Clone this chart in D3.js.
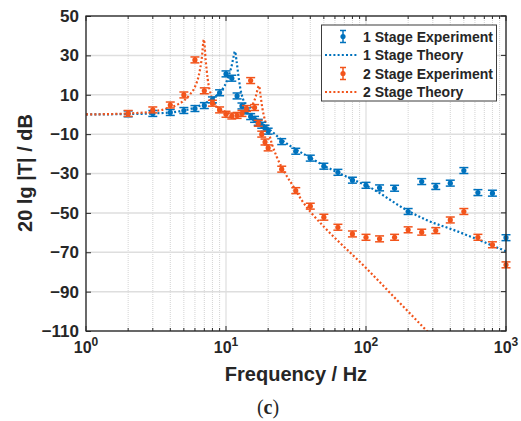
<!DOCTYPE html>
<html>
<head>
<meta charset="utf-8">
<script src="https://cdn.jsdelivr.net/npm/d3@7"></script>
<style>
  body { margin: 0; background: #fff; }
  svg { display: block; }
  text { font-family: "Liberation Sans", Arial, sans-serif; fill: #262626; }
</style>
</head>
<body>
<div id="chart"></div>
<script>
// measured frequencies (Hz)
const expFreq = [2, 3, 4, 5, 6, 7, 8, 9, 10, 11, 12, 13, 14, 15, 16, 17, 18, 19, 20,
  25, 31.5, 40, 50, 63, 80, 100, 125, 160, 200, 250, 315, 400, 500, 630, 800, 1000];

// 1 stage experiment (dB)
const stage1Exp = [0.3, 0.5, 1, 2, 3, 4.5, 7.4, 11, 20.6, 18.4, 9.4, 4.3, 1.8, -1.1, -2.5, -4, -5.5, -7, -8.5,
  -13.8, -18.7, -22.2, -26.3, -29.4, -33.4, -36, -37.3, -37.5, -49.3, -34.1, -36.6, -34.9, -28.5, -39.7, -40, -62.6];

// 2 stage experiment (dB)
const stage2Exp = [0.5, 2.3, 4.8, 9.9, 27.7, 12, 5.7, 2.3, 0.1, -0.8, -0.5, 0.5, 3, 17.2, 3.5, -4.5, -10, -14, -17,
  -27.8, -38.7, -46.6, -52.2, -57.3, -60.7, -62.4, -63.2, -62.4, -58.6, -59.8, -59, -53.6, -49.3, -62.4, -66.2, -76.4];

const expError = 1.5;

// theory curves
const stage1TheoryFreq = [1, 2, 3, 4, 5, 6, 7, 8, 9, 10, 10.5, 11, 11.3, 11.6, 11.9, 12.2, 12.6, 13.2, 14, 15,
  16.5, 18, 20, 25, 32, 40, 50, 63, 80, 100, 200, 270, 420, 1000];
const stage1TheoryDb = [0, 0.2, 0.5, 1, 2, 3.5, 5.5, 8, 11, 16, 20, 25, 29, 32, 27, 21, 14, 8, 4, 1,
  -2, -4.5, -7, -13, -18, -22, -26, -29.5, -33, -36, -49, -53.6, -58.6, -69.5];

const stage2TheoryFreq = [1, 2, 3, 4, 4.5, 5, 5.5, 6, 6.4, 6.7, 6.95, 7.15, 7.4, 7.8, 8.5, 9.5, 10.5, 11.5, 12.5,
  13.5, 14.5, 15.5, 16.3, 17.2, 17.7, 18.2, 19, 20, 21.2, 23, 26.4, 30.3, 34.6, 40.9, 50, 100, 165, 290];
const stage2TheoryDb = [0, 0.5, 1.5, 3.5, 5, 7, 10, 14, 20, 28, 38, 28, 18, 10, 4.5, 2, 0.5, -0.2, 0,
  1, 2.5, 5, 9, 14.5, 9, 3, -3, -8, -14.6, -21.4, -29.8, -36.6, -43.4, -50.2, -57, -78, -94, -112];

const yTicks = [50, 30, 10, -10, -30, -50, -70, -90, -110];
const xDecades = [1, 10, 100, 1000];

const blue = "#0072BD";
const orange = "#F2541B";

const width = 521, height = 421;
const plot = { left: 86, right: 506, top: 16, bottom: 331 };

const svg = d3.select("#chart").append("svg")
  .attr("width", width)
  .attr("height", height);

const x = d3.scaleLog().domain([1, 1000]).range([plot.left, plot.right]);
const y = d3.scaleLinear().domain([-110, 50]).range([plot.bottom, plot.top]);

// minor tick positions 2..9 per decade
const minorTicks = [];
[1, 10, 100].forEach(d => { for (let k = 2; k <= 9; k++) minorTicks.push(d * k); });

// grid
const grid = svg.append("g");
grid.selectAll(".minor")
  .data(minorTicks)
  .join("line")
    .attr("x1", d => x(d)).attr("x2", d => x(d))
    .attr("y1", plot.top).attr("y2", plot.bottom)
    .attr("stroke", "#c8c8c8")
    .attr("stroke-width", 0.8)
    .attr("stroke-dasharray", "1,1");
grid.selectAll(".majorx")
  .data(xDecades)
  .join("line")
    .attr("x1", d => x(d)).attr("x2", d => x(d))
    .attr("y1", plot.top).attr("y2", plot.bottom)
    .attr("stroke", "#dedede")
    .attr("stroke-width", 1.2);
grid.selectAll(".majory")
  .data(yTicks)
  .join("line")
    .attr("x1", plot.left).attr("x2", plot.right)
    .attr("y1", d => y(d)).attr("y2", d => y(d))
    .attr("stroke", "#dedede")
    .attr("stroke-width", 1.5);

// theory lines, clipped to the axes box
svg.append("clipPath").attr("id", "clip")
  .append("rect")
    .attr("x", plot.left).attr("y", plot.top)
    .attr("width", plot.right - plot.left).attr("height", plot.bottom - plot.top);

const line = d3.line()
  .x(d => x(d[0]))
  .y(d => y(d[1]))
  .curve(d3.curveMonotoneX);

const theory = [
  { f: stage1TheoryFreq, v: stage1TheoryDb, color: blue },
  { f: stage2TheoryFreq, v: stage2TheoryDb, color: orange }
];

svg.append("g").attr("clip-path", "url(#clip)")
  .selectAll("path")
  .data(theory)
  .join("path")
    .attr("d", d => line(d.f.map((f, i) => [f, d.v[i]])))
    .attr("fill", "none")
    .attr("stroke", d => d.color)
    .attr("stroke-width", 2.2)
    .attr("stroke-dasharray", "2,2.2");

// experiment error bars
function drawErrorbars(values, color) {
  const g = svg.append("g");
  const pts = expFreq.map((f, i) => ({ f: f, v: values[i] }));
  const cap = 4.5;
  g.selectAll(".bar").data(pts).join("line")
    .attr("x1", d => x(d.f)).attr("x2", d => x(d.f))
    .attr("y1", d => y(d.v - expError)).attr("y2", d => y(d.v + expError))
    .attr("stroke", color).attr("stroke-width", 1.5);
  g.selectAll(".capTop").data(pts).join("line")
    .attr("x1", d => x(d.f) - cap).attr("x2", d => x(d.f) + cap)
    .attr("y1", d => y(d.v + expError)).attr("y2", d => y(d.v + expError))
    .attr("stroke", color).attr("stroke-width", 1.5);
  g.selectAll(".capBot").data(pts).join("line")
    .attr("x1", d => x(d.f) - cap).attr("x2", d => x(d.f) + cap)
    .attr("y1", d => y(d.v - expError)).attr("y2", d => y(d.v - expError))
    .attr("stroke", color).attr("stroke-width", 1.5);
  g.selectAll("circle").data(pts).join("circle")
    .attr("cx", d => x(d.f)).attr("cy", d => y(d.v))
    .attr("r", 2.6)
    .attr("fill", color);
}
drawErrorbars(stage1Exp, blue);
drawErrorbars(stage2Exp, orange);

// axes box and ticks
const axisColor = "#262626";
svg.append("rect")
  .attr("x", plot.left).attr("y", plot.top)
  .attr("width", plot.right - plot.left).attr("height", plot.bottom - plot.top)
  .attr("fill", "none").attr("stroke", axisColor).attr("stroke-width", 1.3);

const yAxis = svg.append("g")
  .attr("transform", `translate(${plot.left},0)`)
  .call(d3.axisLeft(y).tickValues(yTicks).tickSize(-5).tickPadding(7));
yAxis.select(".domain").remove();
yAxis.selectAll(".tick line").attr("stroke", axisColor);
yAxis.selectAll(".tick text")
  .attr("font-size", 17).attr("font-weight", "bold")
  .attr("font-family", "Liberation Sans, Arial, sans-serif")
  .attr("fill", axisColor);

// right side ticks
svg.append("g").selectAll("line").data(yTicks).join("line")
  .attr("x1", plot.right).attr("x2", plot.right - 5)
  .attr("y1", d => y(d)).attr("y2", d => y(d))
  .attr("stroke", axisColor);

// x ticks on bottom and top (major longer, minor shorter)
const xTickData = xDecades.map(d => ({ v: d, len: 5 })).concat(minorTicks.map(d => ({ v: d, len: 3 })));
svg.append("g").selectAll("line").data(xTickData).join("line")
  .attr("x1", d => x(d.v)).attr("x2", d => x(d.v))
  .attr("y1", plot.bottom).attr("y2", d => plot.bottom - d.len)
  .attr("stroke", axisColor);
svg.append("g").selectAll("line").data(xTickData).join("line")
  .attr("x1", d => x(d.v)).attr("x2", d => x(d.v))
  .attr("y1", plot.top).attr("y2", d => plot.top + d.len)
  .attr("stroke", axisColor);

// x tick labels 10^n
const xLabels = svg.append("g").selectAll("text")
  .data(xDecades)
  .join("text")
    .attr("x", d => x(d))
    .attr("y", 353)
    .attr("text-anchor", "middle")
    .attr("font-size", 16)
    .attr("font-weight", "bold");
xLabels.append("tspan").text("10");
xLabels.append("tspan")
  .attr("dy", -7)
  .attr("font-size", 12)
  .text(d => Math.round(Math.log10(d)));

// axis titles
svg.append("text")
  .attr("x", 296).attr("y", 381)
  .attr("text-anchor", "middle")
  .attr("font-size", 20).attr("font-weight", "bold")
  .text("Frequency / Hz");

svg.append("text")
  .attr("transform", "translate(32,173) rotate(-90)")
  .attr("text-anchor", "middle")
  .attr("font-size", 20).attr("font-weight", "bold")
  .text("20 lg |T| / dB");

svg.append("text")
  .attr("x", 268).attr("y", 414)
  .attr("text-anchor", "middle")
  .attr("font-size", 20)
  .style("font-family", "Liberation Serif, DejaVu Serif, serif")
  .html("(<tspan font-weight='bold'>c</tspan>)");

// legend
const legendItems = [
  { label: "1 Stage Experiment", color: blue, type: "err" },
  { label: "1 Stage Theory", color: blue, type: "line" },
  { label: "2 Stage Experiment", color: orange, type: "err" },
  { label: "2 Stage Theory", color: orange, type: "line" }
];
const legend = svg.append("g");
legend.append("rect")
  .attr("x", 321.5).attr("y", 25)
  .attr("width", 175).attr("height", 76)
  .attr("fill", "#fff").attr("stroke", "#3c3c3c").attr("stroke-width", 1);

const rows = legend.selectAll(".row")
  .data(legendItems)
  .join("g")
    .attr("transform", (d, i) => `translate(0,${36.5 + i * 18.5})`);

rows.filter(d => d.type === "err").each(function(d) {
  const g = d3.select(this);
  g.append("line").attr("x1", 343).attr("x2", 343).attr("y1", -6).attr("y2", 6)
    .attr("stroke", d.color).attr("stroke-width", 1.5);
  g.append("line").attr("x1", 340).attr("x2", 346).attr("y1", -6).attr("y2", -6)
    .attr("stroke", d.color).attr("stroke-width", 1.5);
  g.append("line").attr("x1", 340).attr("x2", 346).attr("y1", 6).attr("y2", 6)
    .attr("stroke", d.color).attr("stroke-width", 1.5);
  g.append("circle").attr("cx", 343).attr("cy", 0).attr("r", 2.6).attr("fill", d.color);
});
rows.filter(d => d.type === "line")
  .append("line")
    .attr("x1", 325).attr("x2", 358).attr("y1", 0).attr("y2", 0)
    .attr("stroke", d => d.color)
    .attr("stroke-width", 2.2)
    .attr("stroke-dasharray", "2,2.2");

rows.append("text")
  .attr("x", 363).attr("y", 5)
  .attr("font-size", 14).attr("font-weight", "bold")
  .text(d => d.label);
</script>
</body>
</html>
